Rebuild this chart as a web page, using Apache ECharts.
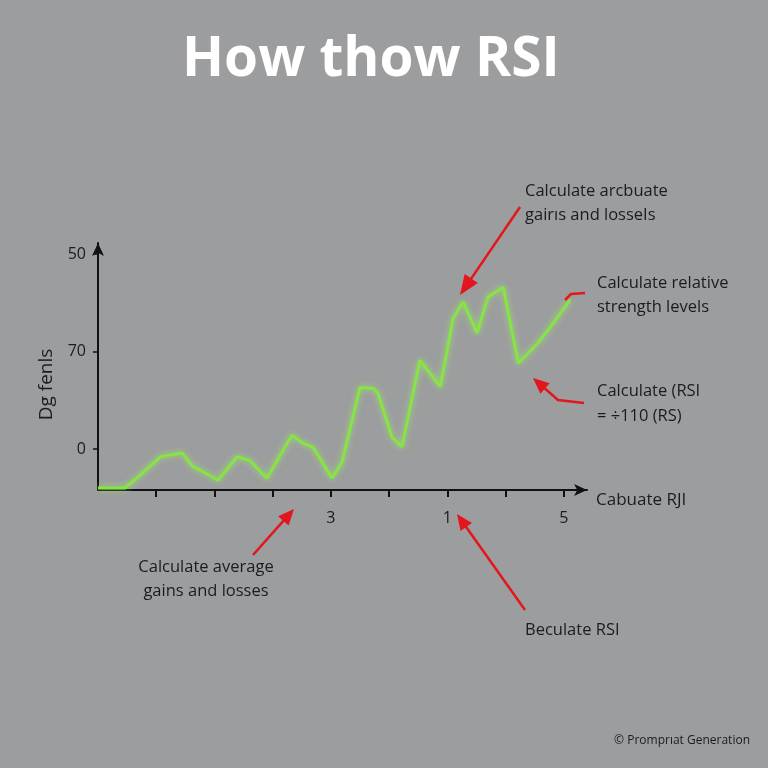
<!DOCTYPE html>
<html>
<head>
<meta charset="utf-8">
<script src="https://cdn.jsdelivr.net/npm/echarts@6/dist/echarts.min.js"></script>
<style>
html,body{margin:0;padding:0;background:#9c9d9f;}
#c{width:768px;height:768px;}
</style>
</head>
<body>
<div id="c"></div>
<script>
// ---- data (x in tick units, y in label-tick units) ----
const seriesX = [0,0.46,0.72,1.07,1.44,1.63,1.80,2.06,2.39,2.61,2.90,3.33,3.52,3.69,4.02,4.19,4.50,4.73,4.81,5.05,5.22,5.53,5.88,6.10,6.27,6.51,6.70,6.96,7.22,7.56,7.77,8.11];
const seriesY = [-0.40,-0.40,-0.27,-0.08,-0.04,-0.18,-0.23,-0.32,-0.08,-0.12,-0.30,0.14,0.06,0.02,-0.30,-0.14,0.63,0.62,0.57,0.12,0.02,0.91,0.64,1.34,1.51,1.19,1.56,1.66,0.88,1.09,1.25,1.53];
const yTickValues = [0,1,2];
const yTickLabels = ['0','70','50'];
const xTickValues = [1,2,3,4,5,6,7,8];
const xLabelValues = [4,6,8];
const xLabelTexts = ['3','1','5'];

const titleText = 'How thow RSI';
const yName = 'Dg fenls';
const xName = 'Cabuate RJI';

const chart = echarts.init(document.getElementById('c'));
const RED = '#e3161d';
const TXT = '#1c1c1c';
const FONT = '"Open Sans", "DejaVu Sans", sans-serif';

function arrow(pts, head, width) {
  const n = pts.length;
  const [x1,y1] = pts[n-2], [x2,y2] = pts[n-1];
  const dx = x2-x1, dy = y2-y1, L = Math.hypot(dx,dy);
  const ux = dx/L, uy = dy/L;
  const bx = x2-ux*head, by = y2-uy*head;
  const px = -uy*width/2, py = ux*width/2;
  const linePts = pts.slice(0,n-1).concat([[bx+ux*2,by+uy*2]]);
  return [
    {type:'polyline', shape:{points:linePts}, style:{stroke:RED, lineWidth:2.5, fill:null}, z:10},
    {type:'polygon', shape:{points:[[x2,y2],[bx+px,by+py],[bx-px,by-py]]}, style:{fill:RED}, z:10}
  ];
}
function txt(x, y, t, size, align) {
  return {type:'text', x:x, y:y, style:{text:t, fill:TXT, font:(size||16.5)+'px '+FONT, textAlign:align||'left', textVerticalAlign:'middle'}, z:10};
}

const graphics = [].concat(
  arrow([[520,207],[460,295]], 20, 16),
  [{type:'polyline', shape:{points:[[565,300],[571,294],[585,293]]}, style:{stroke:RED, lineWidth:2.5, fill:null}, z:10}],
  arrow([[584,403],[558,400],[533,378]], 16, 14),
  arrow([[253,555],[294,509]], 16, 14),
  arrow([[525,610],[457,514]], 16, 14),
  [
    txt(525,191,'Calculate arcbuate'),
    txt(525,215,'gairıs and losseIs'),
    txt(597,283,'Calculate relative'),
    txt(597,307,'strength levels'),
    txt(597,391,'Calculate (RSI'),
    txt(597,416,'= ÷110 (RS)'),
    txt(206,567,'Calculate average',16.5,'center'),
    txt(206,591,'gains and losses',16.5,'center'),
    txt(525,630,'Beculate RSI'),
    txt(750,741,'© Promprıat Generation',12,'right')
  ]
);

chart.setOption({
  backgroundColor:'#9c9d9f',
  animation:false,
  title:{text:titleText, left:177, top:28, textStyle:{color:'#ffffff', fontSize:55, fontWeight:'bold', fontFamily:FONT}},
  grid:{left:98, right:181, top:243, bottom:278},
  xAxis:{
    type:'value', min:0, max:8.4,
    name:xName, nameLocation:'end', nameGap:9,
    nameTextStyle:{color:TXT, fontSize:17, fontFamily:FONT, verticalAlign:'top', padding:[2,0,0,0]},
    axisLine:{show:true, onZero:false, symbol:['none','arrow'], symbolSize:[9,13], lineStyle:{color:'#111', width:2}},
    axisTick:{show:true, customValues:xTickValues, length:7, lineStyle:{color:'#111', width:2}},
    axisLabel:{customValues:xLabelValues, color:TXT, fontSize:16, fontFamily:FONT, margin:20,
      formatter:v=>{const i=xLabelValues.indexOf(Math.round(v)); return i>=0?xLabelTexts[i]:'';}},
    splitLine:{show:false}
  },
  yAxis:{
    type:'value', min:-0.4205, max:2.1128,
    name:yName, nameLocation:'middle', nameGap:42, nameRotate:90,
    nameTextStyle:{color:TXT, fontSize:19, fontFamily:FONT, padding:[0,36,0,0]},
    axisLine:{show:true, onZero:false, symbol:['none','arrow'], symbolSize:[9,13], lineStyle:{color:'#111', width:2}},
    axisTick:{show:true, customValues:yTickValues, length:5, lineStyle:{color:'#111', width:1.5}},
    axisLabel:{customValues:yTickValues, color:TXT, fontSize:16, fontFamily:FONT, margin:12,
      formatter:v=>{const i=yTickValues.indexOf(Math.round(v)); return i>=0?yTickLabels[i]:'';}},
    splitLine:{show:false}
  },
  series:[{
    type:'line', showSymbol:false, clip:false,
    data:seriesX.map((x,i)=>[x,seriesY[i]]),
    lineStyle:{color:'#86e444', width:3, shadowColor:'rgba(160,255,90,0.7)', shadowBlur:6}
  }],
  graphic:graphics
});
</script>
</body>
</html>
